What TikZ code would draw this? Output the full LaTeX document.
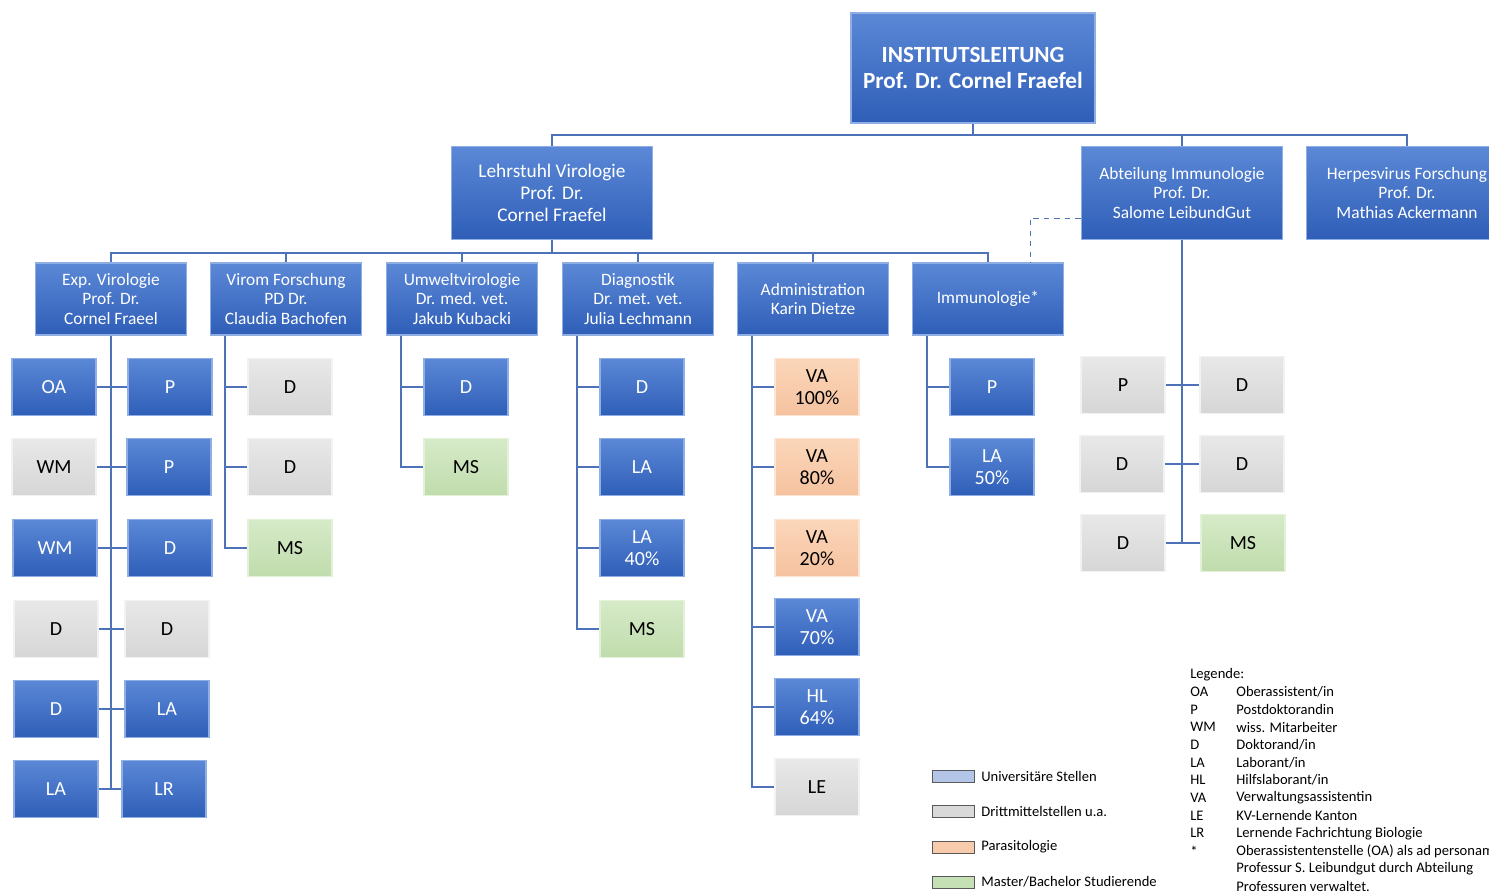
\documentclass[tikz,border=0pt]{standalone}
\usepackage{fontspec}
\setmainfont{Carlito}
\usetikzlibrary{positioning}

\definecolor{bluetop}{HTML}{5B88D6}
\definecolor{bluebot}{HTML}{2F5EB8}
\definecolor{blueedge}{HTML}{8FAEE3}
\definecolor{graytop}{HTML}{E8E8E8}
\definecolor{graybot}{HTML}{D6D6D6}
\definecolor{grayedge}{HTML}{F2F2F2}
\definecolor{paratop}{HTML}{FBD6BA}
\definecolor{parabot}{HTML}{F5C29F}
\definecolor{paraedge}{HTML}{FCE4D2}
\definecolor{studtop}{HTML}{D6EAC8}
\definecolor{studbot}{HTML}{C0DCAC}
\definecolor{studedge}{HTML}{E3F1D9}
\definecolor{linecol}{HTML}{4E72B8}
\definecolor{legblue}{HTML}{B4C6E7}
\definecolor{leggray}{HTML}{D9D9D9}
\definecolor{legpara}{HTML}{F8CBAD}
\definecolor{legstud}{HTML}{C5E0B4}

\tikzset{
  box/.style={rectangle, align=center, inner sep=1pt, line width=0.9pt},
  uni/.style={box, top color=bluetop, bottom color=bluebot, draw=blueedge, text=white},
  dritt/.style={box, top color=graytop, bottom color=graybot, draw=grayedge, text=black},
  para/.style={box, top color=paratop, bottom color=parabot, draw=paraedge, text=black},
  stud/.style={box, top color=studtop, bottom color=studbot, draw=studedge, text=black},
  small/.style={minimum width=1.68cm, minimum height=1.14cm, font=\fontsize{11.4}{12.5}\selectfont},
  unit/.style={minimum width=3.02cm, minimum height=1.44cm, font=\fontsize{9.9}{11.2}\selectfont},
  chair/.style={minimum width=4.02cm, minimum height=1.86cm},
  orgline/.style={draw=linecol, line width=1.1pt},
  dashline/.style={draw=linecol, dashed, line width=0.5pt},
  swatch/.style={draw=gray!70!black, line width=0.4pt},
  legtext/.style={anchor=west, inner sep=0pt, font=\fontsize{8.3}{9}\selectfont}
}

\begin{document}
\begin{tikzpicture}[x=0.02cm, y=-0.02cm]
    \useasboundingbox (0,0) rectangle (1489,893);

    % Leitung and chairs
    \node[uni, minimum width=4.88cm, minimum height=2.2cm,
          font=\bfseries\fontsize{13.2}{14.4}\selectfont] (il) at (973,68)
          {INSTITUTSLEITUNG\\Prof. Dr. Cornel Fraefel};
    \node[uni, chair, font=\fontsize{11}{12.7}\selectfont] (ls) at (552,193)
          {Lehrstuhl Virologie\\Prof. Dr.\\Cornel Fraefel};
    \node[uni, chair, font=\fontsize{9.9}{11}\selectfont] (ai) at (1182,193)
          {Abteilung Immunologie\\Prof. Dr.\\Salome LeibundGut};
    \node[uni, chair, font=\fontsize{9.9}{11}\selectfont] (hv) at (1407,193)
          {Herpesvirus Forschung\\Prof. Dr.\\Mathias Ackermann};

    % Groups
    \node[uni, unit] (ev) at (111,299) {Exp. Virologie\\Prof. Dr.\\Cornel Fraeel};
    \node[uni, unit] (vf) at (286,299) {Virom Forschung\\PD Dr.\\Claudia Bachofen};
    \node[uni, unit] (uw) at (462,299) {Umweltvirologie\\Dr. med. vet.\\Jakub Kubacki};
    \node[uni, unit] (dg) at (638,299) {Diagnostik\\Dr. met. vet.\\Julia Lechmann};
    \node[uni, unit] (ad) at (813,299) {Administration\\Karin Dietze};
    \node[uni, unit] (im) at (988,299) {Immunologie*};

    % Staff
    \foreach \n/\x/\y/\s/\t in {
        oa/54/387/uni/OA, p1/170/387/uni/P,
        wma/54/467/dritt/WM, p2/169/467/uni/P,
        wmb/55/548/uni/WM, da/170/548/uni/D,
        db/56/629/dritt/D, dc/167/629/dritt/D,
        dd/56/709/uni/D, laa/167/709/uni/LA,
        lab/56/789/uni/LA, lr/164/789/uni/LR,
        vfa/290/387/dritt/D, vfb/290/467/dritt/D, vfc/290/548/stud/MS,
        uwa/466/387/uni/D, uwb/466/467/stud/MS,
        dga/642/387/uni/D, dgb/642/467/uni/LA, dgc/642/548/uni/{LA\\40\%}, dgd/642/629/stud/MS,
        ada/817/387/para/{VA\\100\%}, adb/817/467/para/{VA\\80\%}, adc/817/548/para/{VA\\20\%},
        add/817/627/uni/{VA\\70\%}, ade/817/707/uni/{HL\\64\%}, adf/817/787/dritt/LE,
        ima/992/387/uni/P, imb/992/467/uni/{LA\\50\%},
        aia/1123/385/dritt/P, aib/1242/385/dritt/D,
        aic/1122/464/dritt/D, aid/1242/464/dritt/D,
        aie/1123/543/dritt/D, aif/1243/543/stud/MS}
        \node[\s, small] (\n) at (\x,\y) {\t};

    % Top connectors
    \coordinate (b1) at (973,135);
    \draw[orgline] (il.south) -- (b1);
    \foreach \n in {ls,ai,hv}
        \draw[orgline] (\n.north) |- (b1);

    \coordinate (b2) at (552,253);
    \draw[orgline] (ls.south) -- (b2);
    \foreach \n in {ev,vf,uw,dg,ad,im}
        \draw[orgline] (\n.north) |- (b2);

    \draw[dashline] ([yshift=-0.5cm]ai.west) -| ([xshift=0.84cm]im.north);

    % Two-sided columns
    \draw[orgline] (ev.south) -- (ev.south |- lr.center);
    \foreach \a/\b in {oa/p1,wma/p2,wmb/da,db/dc,dd/laa,lab/lr}
        \draw[orgline] (\a.east) -- (\b.west);
    \draw[orgline] (ai.south) -- (ai.south |- aif.center);
    \foreach \a/\b in {aia/aib,aic/aid,aie/aif}
        \draw[orgline] (\a.east) -- (\b.west);

    % One-sided columns
    \foreach \u/\kids in {vf/{vfa,vfb,vfc}, uw/{uwa,uwb}, dg/{dga,dgb,dgc,dgd},
                          ad/{ada,adb,adc,add,ade,adf}, im/{ima,imb}}
        \foreach \k in \kids
            \draw[orgline] ([xshift=0.3cm]\u.south west) |- (\k.west);

    % Legend
    \foreach \c/\t/\y [count=\i] in {legblue/Universitäre Stellen/776,
        leggray/Drittmittelstellen u.a./811, legpara/Parasitologie/847,
        legstud/Master\slash Bachelor Studierende/882}{
        \draw[swatch, fill=\c] (932,\y-6) rectangle (974,\y+6);
        \node[legtext] (sw\i) at (981,\y) {\t};
    }
    \node[legtext] (leg) at (1190,675) {Legende:};
    \foreach \a/\t [count=\i] in {OA/{Oberassistent/in}, P/Postdoktorandin,
        WM/wiss. Mitarbeiter, D/{Doktorand/in}, LA/{Laborant/in}, HL/{Hilfslaborant/in},
        VA/Verwaltungsassistentin, LE/KV-Lernende Kanton, LR/Lernende Fachrichtung Biologie,
        */Oberassistentenstelle (OA) als ad personam,
        {}/Professur S. Leibundgut durch Abteilung, {}/Professuren verwaltet.}{
        \node[legtext] (ab\i) at (1190,674+\i*17.7) {\a};
        \node[legtext] (lt\i) at (1236,674+\i*17.7) {\t};
    }
\end{tikzpicture}
\end{document}
